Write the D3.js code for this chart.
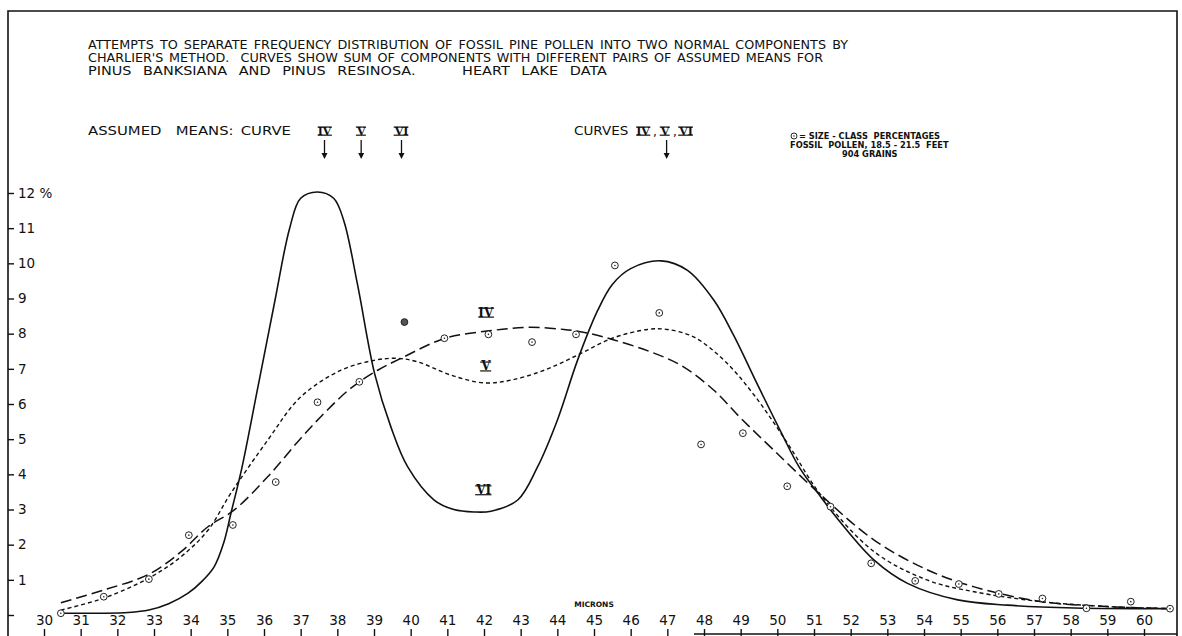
<!DOCTYPE html>
<html>
<head>
<meta charset="utf-8">
<script src="https://cdn.jsdelivr.net/npm/d3@7"></script>
<style>
  body { margin: 0; background: #fff; }
  text { font-family: "DejaVu Sans", "Liberation Sans", sans-serif; fill: #111; white-space: pre; }
  .roman { font-family: "DejaVu Serif", serif; font-weight: bold; }
</style>
</head>
<body>
<svg id="chart"></svg>
<script>
// size-class percentages (circles)
const sizeClass = [30.46, 31.63, 32.86, 33.95, 35.15, 36.32, 37.46, 38.6, 39.83, 40.92, 42.12, 43.31, 44.51, 45.57,
  46.78, 47.92, 49.06, 50.27, 51.45, 52.56, 53.76, 54.95, 56.04, 57.23, 58.43, 59.64, 60.71];
const sizePct = [0.05, 0.52, 1.02, 2.27, 2.56, 3.78, 6.05, 6.63, 8.33, 7.87, 7.98, 7.76, 7.98, 9.94,
  8.59, 4.85, 5.17, 3.66, 3.08, 1.47, 0.97, 0.88, 0.6, 0.47, 0.19, 0.38, 0.18];
const filledPoint = 39.83;

// curve IV (long dashes)
const curveIVx = [30.46, 31.63, 32.86, 33.74, 34.47, 35.18, 36.1, 37.0, 37.7, 38.37, 39.1, 39.74, 40.94, 42.14, 43.2,
  44.18, 44.82, 45.55, 46.5, 47.37, 48.27, 49.0, 49.9, 51.19, 52.64, 54.1, 55.37, 57.2, 59.0, 60.71];
const curveIVy = [0.35, 0.71, 1.16, 1.8, 2.51, 2.98, 3.93, 5.02, 5.8, 6.45, 6.96, 7.3, 7.87, 8.08, 8.18,
  8.12, 8.02, 7.82, 7.5, 7.1, 6.39, 5.6, 4.69, 3.41, 2.13, 1.28, 0.8, 0.38, 0.24, 0.18];

// curve V (short dashes)
const curveVx = [30.46, 31.63, 32.86, 33.74, 34.47, 35.1, 36.1, 37.0, 38.1, 39.0, 39.6, 40.19, 41.1, 42.0, 42.74,
  43.64, 44.55, 45.5, 46.46, 47.0, 47.73, 48.55, 49.37, 50.28, 51.19, 52.64, 54.1, 55.37, 57.2, 59.0, 60.71];
const curveVy = [0.14, 0.48, 1.05, 1.66, 2.41, 3.47, 4.97, 6.2, 6.96, 7.24, 7.3, 7.2, 6.82, 6.6, 6.68,
  6.96, 7.39, 7.87, 8.12, 8.12, 7.9, 7.24, 6.25, 4.88, 3.41, 1.8, 0.99, 0.66, 0.38, 0.24, 0.18];

// curve VI (solid)
const curveVIx = [30.46, 31.5, 32.3, 32.86, 33.4, 33.93, 34.3, 34.64, 34.9, 35.1, 35.4, 35.8, 36.3, 36.7,
  37.0, 37.46, 37.9, 38.18, 38.55, 39.02, 39.46, 39.92, 40.64, 41.18, 41.73, 42.19, 42.92, 43.46, 44.0, 44.55,
  45.1, 45.5, 46.0, 46.83, 47.55, 48.27, 48.81, 49.46, 50.1, 50.6, 51.19, 51.74, 52.64, 53.55, 54.92, 56.28, 58.1, 60.71];
const curveVIy = [0.05, 0.05, 0.07, 0.14, 0.32, 0.62, 0.95, 1.37, 2.05, 2.9, 4.2, 6.3, 8.95, 11.0,
  11.85, 12.03, 11.85, 11.2, 9.4, 6.85, 5.35, 4.21, 3.27, 3.0, 2.93, 2.95, 3.27, 4.21, 5.54, 7.24,
  8.66, 9.4, 9.85, 10.07, 9.8, 8.95, 7.95, 6.55, 5.2, 4.2, 3.35, 2.61, 1.56, 0.9, 0.43, 0.28, 0.2, 0.18];

const xTicks = d3.range(30, 61);
const yTicks = d3.range(0, 13);
const assumedMeans = [["IV", 37.65], ["V", 38.65], ["VI", 39.75]];
const commonMean = 46.98;
const curveLabels = [["IV", 42.05, 8.6], ["V", 42.05, 7.07], ["VI", 41.99, 3.55]];

const titleLines = [
  "ATTEMPTS TO SEPARATE FREQUENCY DISTRIBUTION OF FOSSIL PINE POLLEN INTO TWO NORMAL COMPONENTS BY",
  "CHARLIER'S METHOD.  CURVES SHOW SUM OF COMPONENTS WITH DIFFERENT PAIRS OF ASSUMED MEANS FOR",
  "PINUS BANKSIANA AND PINUS RESINOSA.    HEART LAKE DATA"
];
const titleWidths = [760, 735, 519];
const titleGaps = [2, 1.5, 6];
const legendLines = ["= SIZE - CLASS  PERCENTAGES", "FOSSIL  POLLEN, 18.5 - 21.5  FEET", "904 GRAINS"];

const W = 1182, H = 636;
const svg = d3.select("#chart").attr("width", W).attr("height", H);

const x = d3.scaleLinear().domain([30, 60]).range([44, 1144]);
const y = d3.scaleLinear().domain([0, 12]).range([615, 193]);

// widen glyphs of a text by factor k
function stretch(t, k) {
  let L = t.node().getComputedTextLength();
  t.attr("textLength", L * k).attr("lengthAdjust", "spacingAndGlyphs");
}

// frame
svg.append("path")
  .attr("d", "M8,636 L8,11 L1177,11 L1177,636")
  .attr("fill", "none").attr("stroke", "#111").attr("stroke-width", 1.6);

// title
let title = svg.append("g").attr("font-size", "12.3px");
title.selectAll("text")
  .data(titleLines)
  .enter().append("text")
  .attr("x", 88)
  .attr("y", (d, i) => 49 + i * 13)
  .attr("word-spacing", (d, i) => titleGaps[i] + "px")
  .attr("textLength", (d, i) => titleWidths[i])
  .attr("lengthAdjust", "spacingAndGlyphs")
  .text(d => d);
const kTitle = 1.1;

function roman(g, cx, cy, label, size) {
  let t = g.append("text")
    .attr("class", "roman")
    .attr("x", cx).attr("y", cy)
    .attr("text-anchor", "middle")
    .attr("dominant-baseline", "central")
    .attr("font-size", size + "px")
    .text(label);
  let b = t.node().getBBox();
  let top = cy - size * 0.36, bot = cy + size * 0.38;
  [top, bot].forEach(yy => {
    g.append("line")
      .attr("x1", b.x).attr("x2", b.x + b.width)
      .attr("y1", yy).attr("y2", yy)
      .attr("stroke", "#111").attr("stroke-width", 1.2);
  });
}

function arrow(g, ax, y1, y2) {
  g.append("line")
    .attr("x1", ax).attr("x2", ax).attr("y1", y1).attr("y2", y2 - 5)
    .attr("stroke", "#111").attr("stroke-width", 1.3);
  g.append("path")
    .attr("d", `M${ax - 3},${y2 - 6} L${ax + 3},${y2 - 6} L${ax},${y2} Z`)
    .attr("fill", "#111");
}

// assumed means header
let hdr = svg.append("g").attr("font-size", "12.3px").attr("word-spacing", "2px");
hdr.append("text").attr("x", 88).attr("y", 135)
  .attr("textLength", 203).attr("lengthAdjust", "spacingAndGlyphs")
  .text("ASSUMED  MEANS: CURVE");
assumedMeans.forEach(d => {
  roman(hdr, x(d[1]), 131, d[0], 11);
  arrow(hdr, x(d[1]), 140, 159);
});
stretch(hdr.append("text").attr("x", 574).attr("y", 135).text("CURVES"), kTitle);
roman(hdr, 643, 131, "IV", 11);
hdr.append("text").attr("x", 653).attr("y", 136).text(",");
roman(hdr, 665, 131, "V", 11);
hdr.append("text").attr("x", 673).attr("y", 136).text(",");
roman(hdr, 686, 131, "VI", 11);
arrow(hdr, x(commonMean), 140, 159);

// legend
let leg = svg.append("g").attr("font-weight", "bold").attr("font-size", "8.3px");
leg.append("circle").attr("cx", 794).attr("cy", 136).attr("r", 3)
  .attr("fill", "none").attr("stroke", "#111").attr("stroke-width", 0.9);
leg.append("circle").attr("cx", 794).attr("cy", 136).attr("r", 0.7).attr("fill", "#111");
let ll = leg.selectAll("text.lg")
  .data(legendLines)
  .enter().append("text")
  .attr("class", "lg")
  .attr("x", (d, i) => [799, 790, 842][i])
  .attr("y", (d, i) => 139 + i * 9)
  .text(d => d);
const kLeg = 141 / ll.nodes()[0].getComputedTextLength();
ll.each(function () { stretch(d3.select(this), kLeg); });

// y axis
let yAxis = svg.append("g")
  .attr("transform", "translate(8,0)")
  .call(d3.axisRight(y).tickValues(yTicks).tickSize(6).tickPadding(4)
    .tickFormat(d => d === 0 ? "" : (d === 12 ? "12 %" : d)));
yAxis.select(".domain").remove();
yAxis.selectAll("line").attr("stroke", "#111").attr("stroke-width", 1.4);
yAxis.selectAll("text").attr("font-size", "13.5px").attr("fill", "#111")
  .attr("font-family", "\"DejaVu Sans\", sans-serif");

// x axis
let xAxis = svg.append("g")
  .attr("transform", "translate(0,636)")
  .call(d3.axisTop(x).tickValues(xTicks).tickSize(7).tickPadding(4));
xAxis.select(".domain").remove();
xAxis.selectAll("line").attr("stroke", "#111").attr("stroke-width", 1.4);
xAxis.selectAll("text").attr("font-size", "13.5px").attr("fill", "#111")
  .attr("font-family", "\"DejaVu Sans\", sans-serif");
svg.append("line")
  .attr("x1", x(48) - 10).attr("x2", 1177).attr("y1", 634).attr("y2", 634)
  .attr("stroke", "#111").attr("stroke-width", 1.4);

svg.append("text")
  .attr("x", x(45)).attr("y", 607)
  .attr("text-anchor", "middle")
  .attr("font-size", "7.5px").attr("font-weight", "bold")
  .text("MICRONS");

// curves
const line = d3.line()
  .x(d => x(d[0])).y(d => y(d[1]))
  .curve(d3.curveCatmullRom.alpha(0.5));

function drawCurve(xs, ys, dash, width) {
  svg.append("path")
    .datum(xs.map((v, i) => [v, ys[i]]))
    .attr("d", line)
    .attr("fill", "none")
    .attr("stroke", "#111")
    .attr("stroke-width", width)
    .attr("stroke-dasharray", dash);
}
drawCurve(curveVIx, curveVIy, null, 1.6);
drawCurve(curveIVx, curveIVy, "11,5", 1.5);
drawCurve(curveVx, curveVy, "4,3", 1.4);

// curve labels
let lab = svg.append("g");
curveLabels.forEach(d => roman(lab, x(d[1]), y(d[2]), d[0], 12));

// points
let pts = svg.append("g");
sizeClass.forEach((v, i) => {
  let filled = v === filledPoint;
  pts.append("circle")
    .attr("cx", x(v)).attr("cy", y(sizePct[i])).attr("r", 3.4)
    .attr("fill", filled ? "#555" : "#fff")
    .attr("stroke", "#222").attr("stroke-width", 1);
  if (!filled) {
    pts.append("circle")
      .attr("cx", x(v)).attr("cy", y(sizePct[i])).attr("r", 0.8)
      .attr("fill", "#222");
  }
});
</script>
</body>
</html>
